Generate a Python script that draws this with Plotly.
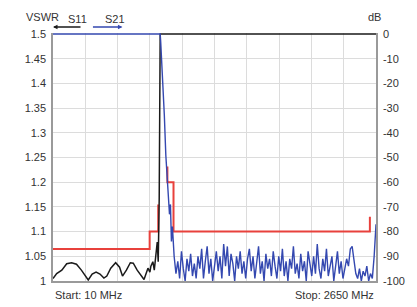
import plotly.graph_objects as go

# ---- data ----
# S11 (VSWR, left axis)
s11_freq = [10, 40, 82, 122, 162, 202, 242, 274, 298, 330, 362, 394, 426, 450, 482, 522, 554, 578,
            610, 642, 666, 698, 730, 754, 786, 802, 810, 826, 838, 850, 862, 870, 878, 886, 2650]
s11_vswr = [1.005, 1.015, 1.022, 1.035, 1.037, 1.034, 1.022, 1.01, 1.002, 1.014, 1.018, 1.014, 1.006,
            1.01, 1.026, 1.037, 1.028, 1.01, 1.022, 1.037, 1.036, 1.022, 1.01, 1.003, 1.026, 1.018,
            1.03, 1.039, 1.022, 1.053, 1.079, 1.039, 1.165, 1.5, 1.5]

# Limit line (VSWR, left axis)
limit_freq = [10, 800, 800, 870, 870, None, 945, 945, 995, 995, 2600, 2600]
limit_vswr = [1.065, 1.065, 1.1, 1.1, 1.155, None, 1.232, 1.2, 1.2, 1.1, 1.1, 1.13]

# S21 (dB, right axis)
s21_head_freq = [10, 886, 890, 906, 920, 932, 946, 954, 962, 970, 978, 986]
s21_head_db = [0, 0, -3, -17, -33, -49, -61, -65, -73, -69, -84, -78]
s21_tail_start = 1000
s21_tail_step = 15
s21_tail_db = [-90, -97, -92, -99, -88, -95, -100, -91, -96, -89, -98, -93, -99,
               -90, -95, -87, -99, -92, -86, -97, -91, -100, -93, -88, -96, -90, -99,
               -85, -94, -86, -98, -89, -93, -100, -90, -95, -88, -97, -92, -99, -91,
               -87, -96, -90, -99, -93, -86, -97, -92, -100, -89, -95, -91, -98, -88,
               -94, -99, -90, -96, -87, -98, -92, -100, -91, -95, -86, -97, -93, -99,
               -89, -96, -92, -100, -88, -94, -98, -90, -97, -85, -95, -99, -91, -96,
               -87, -98, -93, -90, -100, -94, -88, -97, -92, -99, -95, -91, -94, -87,
               -86, -92, -97, -99, -95, -100, -96, -98, -94, -100, -97, -99, -90, -77]

vswr_ticks = [1, 1.05, 1.1, 1.15, 1.2, 1.25, 1.3, 1.35, 1.4, 1.45, 1.5]
vswr_labels = ["1", "1.05", "1.1", "1.15", "1.2", "1.25", "1.3", "1.35", "1.4", "1.45", "1.5"]
db_ticks = [0, -10, -20, -30, -40, -50, -60, -70, -80, -90, -100]
db_labels = ["0", "-10", "-20", "-30", "-40", "-50", "-60", "-70", "-80", "-90", "-100"]
x_start, x_stop = 10, 2650

s21_freq = s21_head_freq + [s21_tail_start + i * s21_tail_step for i in range(len(s21_tail_db))]
s21_db = s21_head_db + s21_tail_db

FONT = "Liberation Sans, Arial, sans-serif"
TXT = "#333333"

fig = go.Figure()
fig.add_trace(go.Scatter(x=limit_freq, y=limit_vswr, mode="lines", yaxis="y",
                         line=dict(color="#e8413c", width=2), connectgaps=False, hoverinfo="skip"))
fig.add_trace(go.Scatter(x=s11_freq, y=s11_vswr, mode="lines", yaxis="y",
                         line=dict(color="#1a1a1a", width=1.5), hoverinfo="skip"))
fig.add_trace(go.Scatter(x=s21_freq, y=s21_db, mode="lines", yaxis="y2",
                         line=dict(color="#3448b0", width=1.4), hoverinfo="skip"))

fig.update_layout(
    width=417, height=307,
    margin=dict(l=53, r=34, t=33, b=26),
    paper_bgcolor="white", plot_bgcolor="white",
    showlegend=False,
    font=dict(family=FONT, size=11, color=TXT),
    xaxis=dict(range=[x_start, x_stop], tick0=x_start, dtick=(x_stop - x_start) / 10,
               showticklabels=False, showgrid=True, gridcolor="#dcdcdc", gridwidth=1,
               zeroline=False, showline=True, linecolor="#9a9a9a", linewidth=1.5, ticks=""),
    yaxis=dict(range=[1, 1.502], tickvals=vswr_ticks, ticktext=vswr_labels,
               showgrid=True, gridcolor="#dcdcdc", gridwidth=1, zeroline=False,
               showline=True, linecolor="#9a9a9a", linewidth=1.5, ticks="outside",
               ticklen=3, tickcolor="rgba(0,0,0,0)", tickfont=dict(size=11, color=TXT)),
    yaxis2=dict(range=[-100, 0.4], tickvals=db_ticks, ticktext=db_labels, overlaying="y",
                side="right", showgrid=False, zeroline=False, showline=True,
                linecolor="#9a9a9a", linewidth=1.5, ticks="outside", ticklen=3,
                tickcolor="rgba(0,0,0,0)", tickfont=dict(size=11, color=TXT)),
)

ann = [
    dict(text="VSWR", x=-0.09, y=1.065, xref="paper", yref="paper", showarrow=False,
         yanchor="middle", font=dict(size=11, color=TXT)),
    dict(text="dB", x=1.021, y=1.065, xref="paper", yref="paper", showarrow=False,
         yanchor="middle", font=dict(size=11, color=TXT)),
    dict(text="S11", x=0.04, y=1.058, xref="paper", yref="paper", showarrow=False,
         yanchor="middle", font=dict(size=11, color=TXT)),
    dict(text="S21", x=0.155, y=1.058, xref="paper", yref="paper", showarrow=False,
         yanchor="middle", font=dict(size=11, color=TXT)),
    dict(text="", x=0.0, y=1.024, xref="paper", yref="paper", showarrow=True,
         ax=29, ay=0, arrowhead=2, arrowsize=0.6, arrowwidth=1.5, arrowcolor="#1a1a1a"),
    dict(text="", x=0.215, y=1.024, xref="paper", yref="paper", showarrow=True,
         ax=-31, ay=0, arrowhead=2, arrowsize=0.6, arrowwidth=1.5, arrowcolor="#3448b0"),
    dict(text="Start: 10 MHz", x=0.0, y=-0.056, xref="paper", yref="paper", showarrow=False,
         xanchor="left", yanchor="middle", font=dict(size=11, color=TXT)),
    dict(text="Stop: 2650 MHz", x=1.0, y=-0.056, xref="paper", yref="paper", showarrow=False,
         xanchor="right", yanchor="middle", font=dict(size=11, color=TXT)),
]
fig.update_layout(annotations=ann)

fig.write_html("out.html", config={"displayModeBar": False},
               post_script="document.body.style.margin='0';document.body.style.padding='0';")
